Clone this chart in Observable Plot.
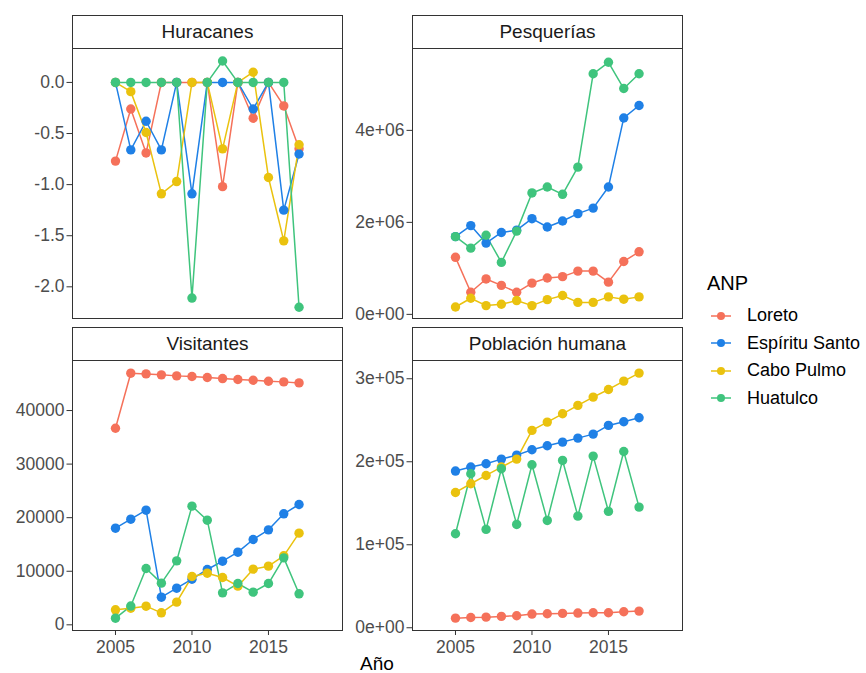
<!DOCTYPE html>
<html>
<head>
<meta charset="utf-8">
<script src="https://cdn.jsdelivr.net/npm/d3@7"></script>
<script src="https://cdn.jsdelivr.net/npm/@observablehq/plot@0.6"></script>
<style>
  body { margin: 0; background: #fff; font-family: "Liberation Sans", Arial, sans-serif; }
  #wrap { position: relative; width: 866px; height: 673px; overflow: hidden; }
  .strip { position: absolute; box-sizing: border-box; border: 1px solid #333; background: #fff;
           text-align: center; font-size: 19px; color: #1a1a1a; line-height: 31px; }
  .panel { position: absolute; }
  .legend { position: absolute; left: 707px; top: 272px; font-size: 18px; color: #000; }
  .legend .title { font-size: 20px; margin-bottom: 7px; }
  .legend .item { display: flex; align-items: center; height: 27.5px; }
  .legend svg { margin-left: 2px; margin-right: 14px; }
  .xtitle { position: absolute; left: 72px; width: 610px; top: 655px; height: 18px; line-height: 18px; text-align: center; font-size: 19px; color: #000; }
</style>
</head>
<body>
<div id="wrap"></div>
<script>
const years = [2005, 2006, 2007, 2008, 2009, 2010, 2011, 2012, 2013, 2014, 2015, 2016, 2017];
const anp = ["Loreto", "Espíritu Santo", "Cabo Pulmo", "Huatulco"];
const colors = ["#F5715A", "#1F80E6", "#EAC20E", "#3FC47D"];
const panelNames = ["Huracanes", "Pesquerías", "Visitantes", "Población humana"];

// Huracanes
const huracanesLoreto   = [-0.77, -0.26, -0.69, 0, 0, 0, 0, -1.02, 0, -0.35, 0, -0.23, -0.65];
const huracanesEspiritu = [0, -0.66, -0.38, -0.66, 0, -1.09, 0, 0, 0, -0.26, 0, -1.25, -0.70];
const huracanesCabo     = [0, -0.09, -0.49, -1.09, -0.97, 0, 0, -0.65, 0, 0.10, -0.93, -1.55, -0.61];
const huracanesHuatulco = [0, 0, 0, 0, 0, -2.11, 0, 0.21, 0, 0, 0, 0, -2.20];

// Pesquerías
const pesqLoreto   = [1240000, 480000, 770000, 630000, 480000, 680000, 790000, 820000, 940000, 940000, 700000, 1150000, 1360000];
const pesqEspiritu = [1690000, 1930000, 1550000, 1780000, 1830000, 2080000, 1900000, 2030000, 2190000, 2310000, 2770000, 4270000, 4540000];
const pesqCabo     = [160000, 350000, 190000, 220000, 300000, 190000, 320000, 410000, 260000, 260000, 380000, 330000, 380000];
const pesqHuatulco = [1690000, 1440000, 1720000, 1130000, 1810000, 2640000, 2770000, 2610000, 3200000, 5230000, 5480000, 4910000, 5230000];

// Visitantes
const visLoreto   = [36700, 46970, 46840, 46660, 46470, 46350, 46160, 45970, 45790, 45660, 45470, 45350, 45160];
const visEspiritu = [18040, 19720, 21400, 5160, 6840, 8520, 10330, 11880, 13560, 15930, 17730, 20720, 22460];
const visCabo     = [2800, 3100, 3480, 2240, 4230, 9020, 9640, 8830, 7220, 10390, 10950, 12880, 17110];
const visHuatulco = [1240, 3500, 10510, 7780, 11940, 22150, 19530, 5970, 7710, 6100, 7710, 12500, 5790];

// Población humana
const pobLoreto   = [11600, 12400, 12800, 13700, 14500, 16500, 16900, 17300, 17700, 18100, 18100, 19300, 20100];
const pobEspiritu = [188800, 193600, 197600, 203200, 208000, 214500, 219300, 223700, 228500, 233300, 243800, 248200, 253000];
const pobCabo     = [163000, 173500, 183500, 193600, 203200, 237800, 247800, 257800, 267900, 277900, 287100, 297200, 306800];
const pobHuatulco = [113300, 185500, 118500, 191600, 124500, 196400, 129300, 201600, 134500, 206800, 140200, 212400, 145400];

const xTicks = [2005, 2010, 2015];
const yTicksHur = [0, -0.5, -1, -1.5, -2];
const yTicksPesq = [0, 2000000, 4000000];
const yTicksVis = [0, 10000, 20000, 30000, 40000];
const yTicksPob = [0, 100000, 200000, 300000];

function rows(seriesList) {
  const out = [];
  seriesList.forEach((vals, i) => vals.forEach((v, j) => out.push({year: years[j], value: v, anp: anp[i]})));
  return out;
}
const fmtExp = d => d.toExponential(0).replace(/e([+-])(\d)$/, "e$10$2");
const fmtDec = d => d.toFixed(1);
const fmtInt = d => String(d);

const panels = [
  {name: panelNames[0], data: rows([huracanesLoreto, huracanesEspiritu, huracanesCabo, huracanesHuatulco]),
   domain: [-2.31, 0.332], ticks: yTicksHur, fmt: fmtDec, left: 72, top: 48, bottomRow: false},
  {name: panelNames[1], data: rows([pesqLoreto, pesqEspiritu, pesqCabo, pesqHuatulco]),
   domain: [-90000, 5780000], ticks: yTicksPesq, fmt: fmtExp, left: 412, top: 48, bottomRow: false},
  {name: panelNames[2], data: rows([visLoreto, visEspiritu, visCabo, visHuatulco]),
   domain: [-1060, 49340], ticks: yTicksVis, fmt: fmtInt, left: 72, top: 360, bottomRow: true},
  {name: panelNames[3], data: rows([pobLoreto, pobEspiritu, pobCabo, pobHuatulco]),
   domain: [-3300, 322000], ticks: yTicksPob, fmt: fmtExp, left: 412, top: 360, bottomRow: true}
];

const wrap = document.getElementById("wrap");
const W = 270, H = 270, ML = 72, MT = 1;

panels.forEach(p => {
  const marks = [
    Plot.frame({stroke: "#333", strokeWidth: 1}),
    Plot.axisY({ticks: p.ticks, tickFormat: p.fmt, tickSize: 5.5, tickPadding: 2.5, label: null, stroke: "#333"}),
    Plot.line(p.data, {x: "year", y: "value", stroke: "anp", z: "anp", strokeWidth: 1.5}),
    Plot.dot(p.data, {x: "year", y: "value", fill: "anp", r: 4.7, stroke: "none"})
  ];
  if (p.bottomRow) {
    marks.push(Plot.axisX({ticks: xTicks, tickFormat: d => String(d), tickSize: 5, tickPadding: 5, label: null, stroke: "#333"}));
  }
  const chart = Plot.plot({
    width: ML + W + 3,
    height: MT + H + (p.bottomRow ? 32 : 3),
    marginLeft: ML, marginRight: 3, marginTop: MT, marginBottom: p.bottomRow ? 32 : 3,
    x: {domain: [2002.19, 2019.84], ...(p.bottomRow ? {} : {axis: null})},
    y: {domain: p.domain},
    color: {domain: anp, range: colors},
    style: {fontSize: "17.5px", fontFamily: "'Liberation Sans', Arial, sans-serif", color: "#4d4d4d", background: "transparent", overflow: "visible"},
    marks
  });
  const holder = document.createElement("div");
  holder.className = "panel";
  holder.style.left = (p.left - ML) + "px";
  holder.style.top = (p.top - MT) + "px";
  holder.appendChild(chart);
  wrap.appendChild(holder);

  const strip = document.createElement("div");
  strip.className = "strip";
  strip.style.left = p.left + "px";
  strip.style.top = (p.top - 33) + "px";
  strip.style.width = (W + 1) + "px";
  strip.style.height = "34px";
  strip.textContent = p.name;
  wrap.appendChild(strip);
});

// Legend
const legend = document.createElement("div");
legend.className = "legend";
const lt = document.createElement("div");
lt.className = "title";
lt.textContent = "ANP";
legend.appendChild(lt);
anp.forEach((name, i) => {
  const item = document.createElement("div");
  item.className = "item";
  item.innerHTML = `<svg width="24" height="12"><line x1="2" x2="22" y1="6" y2="6" stroke="${colors[i]}" stroke-width="1.5"/><circle cx="12" cy="6" r="4" fill="${colors[i]}"/></svg><span>${name}</span>`;
  legend.appendChild(item);
});
wrap.appendChild(legend);

const xt = document.createElement("div");
xt.className = "xtitle";
xt.textContent = "Año";
wrap.appendChild(xt);
</script>
</body>
</html>
